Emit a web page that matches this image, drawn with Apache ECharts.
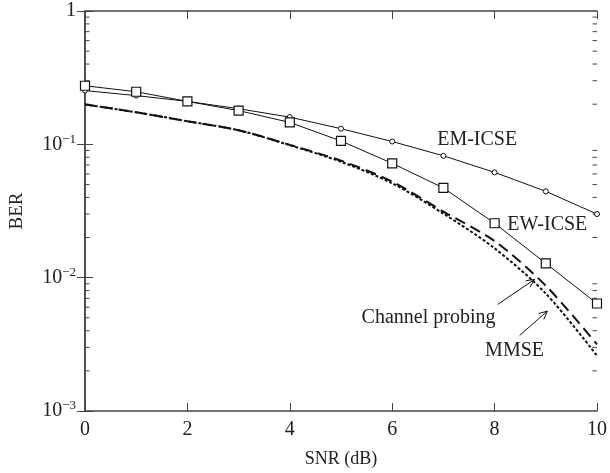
<!DOCTYPE html>
<html>
<head>
<meta charset="utf-8">
<script src="https://cdn.jsdelivr.net/npm/echarts@6/dist/echarts.min.js"></script>
<style>
  html, body { margin: 0; padding: 0; background: #fff; }
  #chart { width: 610px; height: 473px; }
</style>
</head>
<body>
<div id="chart"></div>
<script>
// SNR axis (dB)
const snr = [0, 1, 2, 3, 4, 5, 6, 7, 8, 9, 10];

// BER values
const emIcse = [0.253, 0.232, 0.21, 0.185, 0.16, 0.131, 0.105, 0.082, 0.0616, 0.0444, 0.030];
const ewIcse = [0.275, 0.248, 0.21, 0.179, 0.146, 0.106, 0.072, 0.0471, 0.0256, 0.0128, 0.0064];
const channelProbing = [0.199, 0.174, 0.149, 0.1275, 0.099, 0.0754, 0.0525, 0.0313, 0.0188, 0.0087, 0.00316];
const mmse = [0.199, 0.174, 0.149, 0.1275, 0.0985, 0.074, 0.051, 0.0302, 0.0166, 0.0076, 0.0026];

const xTicks = [0, 2, 4, 6, 8, 10];
const yTicks = [1, 0.1, 0.01, 0.001];

// annotation text: [label, snr, ber]
const labels = [
  ["EM-ICSE", 7.66, 0.108],
  ["EW-ICSE", 9.03, 0.025],
  ["Channel probing", 6.71, 0.00504],
  ["MMSE", 8.39, 0.00285]
];
// arrows: [tailSnr, tailBer, headSnr, headBer]
const arrows = [
  [8.06, 0.0063, 8.78, 0.0097],
  [8.49, 0.00369, 9.03, 0.00561]
];

const font = "'Liberation Serif', 'DejaVu Serif', serif";
const axisColor = "#444";
const textColor = "#222";

const chart = echarts.init(document.getElementById("chart"), null, { renderer: "canvas" });

const pairs = (ys) => snr.map((x, i) => [x, ys[i]]);

const supLabel = (v) => {
  const p = Math.round(Math.log10(v));
  if (p === 0) return "1";
  return "10{sup|\u2212" + (-p) + "}";
};

const tickStyle = { show: true, inside: true, length: 8, lineStyle: { color: axisColor } };
const lineStyle = { show: true, lineStyle: { color: axisColor, width: 1.5 } };

const option = {
  backgroundColor: "#fff",
  animation: false,
  textStyle: { fontFamily: font, color: textColor },
  grid: { left: 83.5, right: 10, top: 11, bottom: 61 },
  xAxis: [
    {
      type: "value",
      min: xTicks[0],
      max: xTicks[xTicks.length - 1],
      interval: 2,
      name: "SNR (dB)",
      nameLocation: "middle",
      nameGap: 39,
      nameTextStyle: { fontFamily: font, fontSize: 18, color: textColor },
      axisLine: lineStyle,
      axisTick: tickStyle,
      axisLabel: { fontFamily: font, fontSize: 20, color: textColor, margin: 9 },
      splitLine: { show: false }
    },
    {
      type: "value",
      min: xTicks[0],
      max: xTicks[xTicks.length - 1],
      interval: 2,
      position: "top",
      axisLine: lineStyle,
      axisTick: tickStyle,
      axisLabel: { show: false },
      splitLine: { show: false }
    }
  ],
  yAxis: [
    {
      type: "log",
      logBase: 10,
      min: yTicks[3],
      max: yTicks[0],
      name: "BER",
      nameLocation: "middle",
      nameGap: 58,
      nameTextStyle: { fontFamily: font, fontSize: 19, color: textColor },
      axisLine: lineStyle,
      axisTick: tickStyle,
      axisLabel: {
        fontFamily: font,
        fontSize: 20,
        color: textColor,
        margin: 9,
        formatter: supLabel,
        rich: {
          sup: { fontFamily: font, fontSize: 13, color: textColor, verticalAlign: "bottom", padding: [0, 0, 10, 0] }
        }
      },
      splitLine: { show: false }
    },
    {
      type: "log",
      logBase: 10,
      min: yTicks[3],
      max: yTicks[0],
      position: "right",
      axisLine: lineStyle,
      axisTick: tickStyle,
      axisLabel: { show: false },
      splitLine: { show: false }
    }
  ],
  series: [
    {
      name: "EM-ICSE",
      type: "line",
      data: pairs(emIcse),
      symbol: "circle",
      symbolSize: 5,
      lineStyle: { color: "#111", width: 1 },
      itemStyle: { color: "#fff", borderColor: "#111", borderWidth: 1 },
      z: 3
    },
    {
      name: "EW-ICSE",
      type: "line",
      data: pairs(ewIcse),
      symbol: "rect",
      symbolSize: 9,
      lineStyle: { color: "#111", width: 1 },
      itemStyle: { color: "#fff", borderColor: "#111", borderWidth: 1.2 },
      z: 4
    },
    {
      name: "Channel probing",
      type: "line",
      data: pairs(channelProbing),
      smooth: 0.3,
      showSymbol: false,
      lineStyle: { color: "#111", width: 2, type: [11, 6] }
    },
    {
      name: "MMSE",
      type: "line",
      data: pairs(mmse),
      smooth: 0.3,
      showSymbol: false,
      lineStyle: { color: "#111", width: 2, type: [3, 2] }
    }
  ]
};

chart.setOption(option);

// log-spaced minor ticks (2..9 per decade) on both y axes, plus annotations
function extras() {
  const g = [];
  const x0 = chart.convertToPixel({ xAxisIndex: 0 }, xTicks[0]);
  const x1 = chart.convertToPixel({ xAxisIndex: 0 }, xTicks[xTicks.length - 1]);
  for (let d = -3; d < 0; d++) {
    for (let m = 2; m <= 9; m++) {
      const y = chart.convertToPixel({ yAxisIndex: 0 }, m * Math.pow(10, d));
      g.push({ type: "line", shape: { x1: x0, y1: y, x2: x0 + 4.5, y2: y }, style: { stroke: axisColor, lineWidth: 1 } });
      g.push({ type: "line", shape: { x1: x1, y1: y, x2: x1 - 4.5, y2: y }, style: { stroke: axisColor, lineWidth: 1 } });
    }
  }
  labels.forEach(([t, x, y]) => {
    const p = chart.convertToPixel({ xAxisIndex: 0, yAxisIndex: 0 }, [x, y]);
    g.push({
      type: "text",
      x: p[0],
      y: p[1],
      style: { text: t, font: "20px " + font, fill: textColor, align: "center", verticalAlign: "middle" },
      z: 10
    });
  });
  arrows.forEach(([xa, ya, xb, yb]) => {
    const a = chart.convertToPixel({ xAxisIndex: 0, yAxisIndex: 0 }, [xa, ya]);
    const b = chart.convertToPixel({ xAxisIndex: 0, yAxisIndex: 0 }, [xb, yb]);
    const ang = Math.atan2(b[1] - a[1], b[0] - a[0]);
    const len = 9, spread = 0.45;
    const h1 = [b[0] - len * Math.cos(ang - spread), b[1] - len * Math.sin(ang - spread)];
    const h2 = [b[0] - len * Math.cos(ang + spread), b[1] - len * Math.sin(ang + spread)];
    g.push({ type: "line", shape: { x1: a[0], y1: a[1], x2: b[0], y2: b[1] }, style: { stroke: "#111", lineWidth: 1 }, z: 10 });
    g.push({ type: "polyline", shape: { points: [h1, b, h2] }, style: { stroke: "#111", lineWidth: 1, fill: null }, z: 10 });
  });
  chart.setOption({ graphic: { elements: g } });
}
extras();
</script>
</body>
</html>
